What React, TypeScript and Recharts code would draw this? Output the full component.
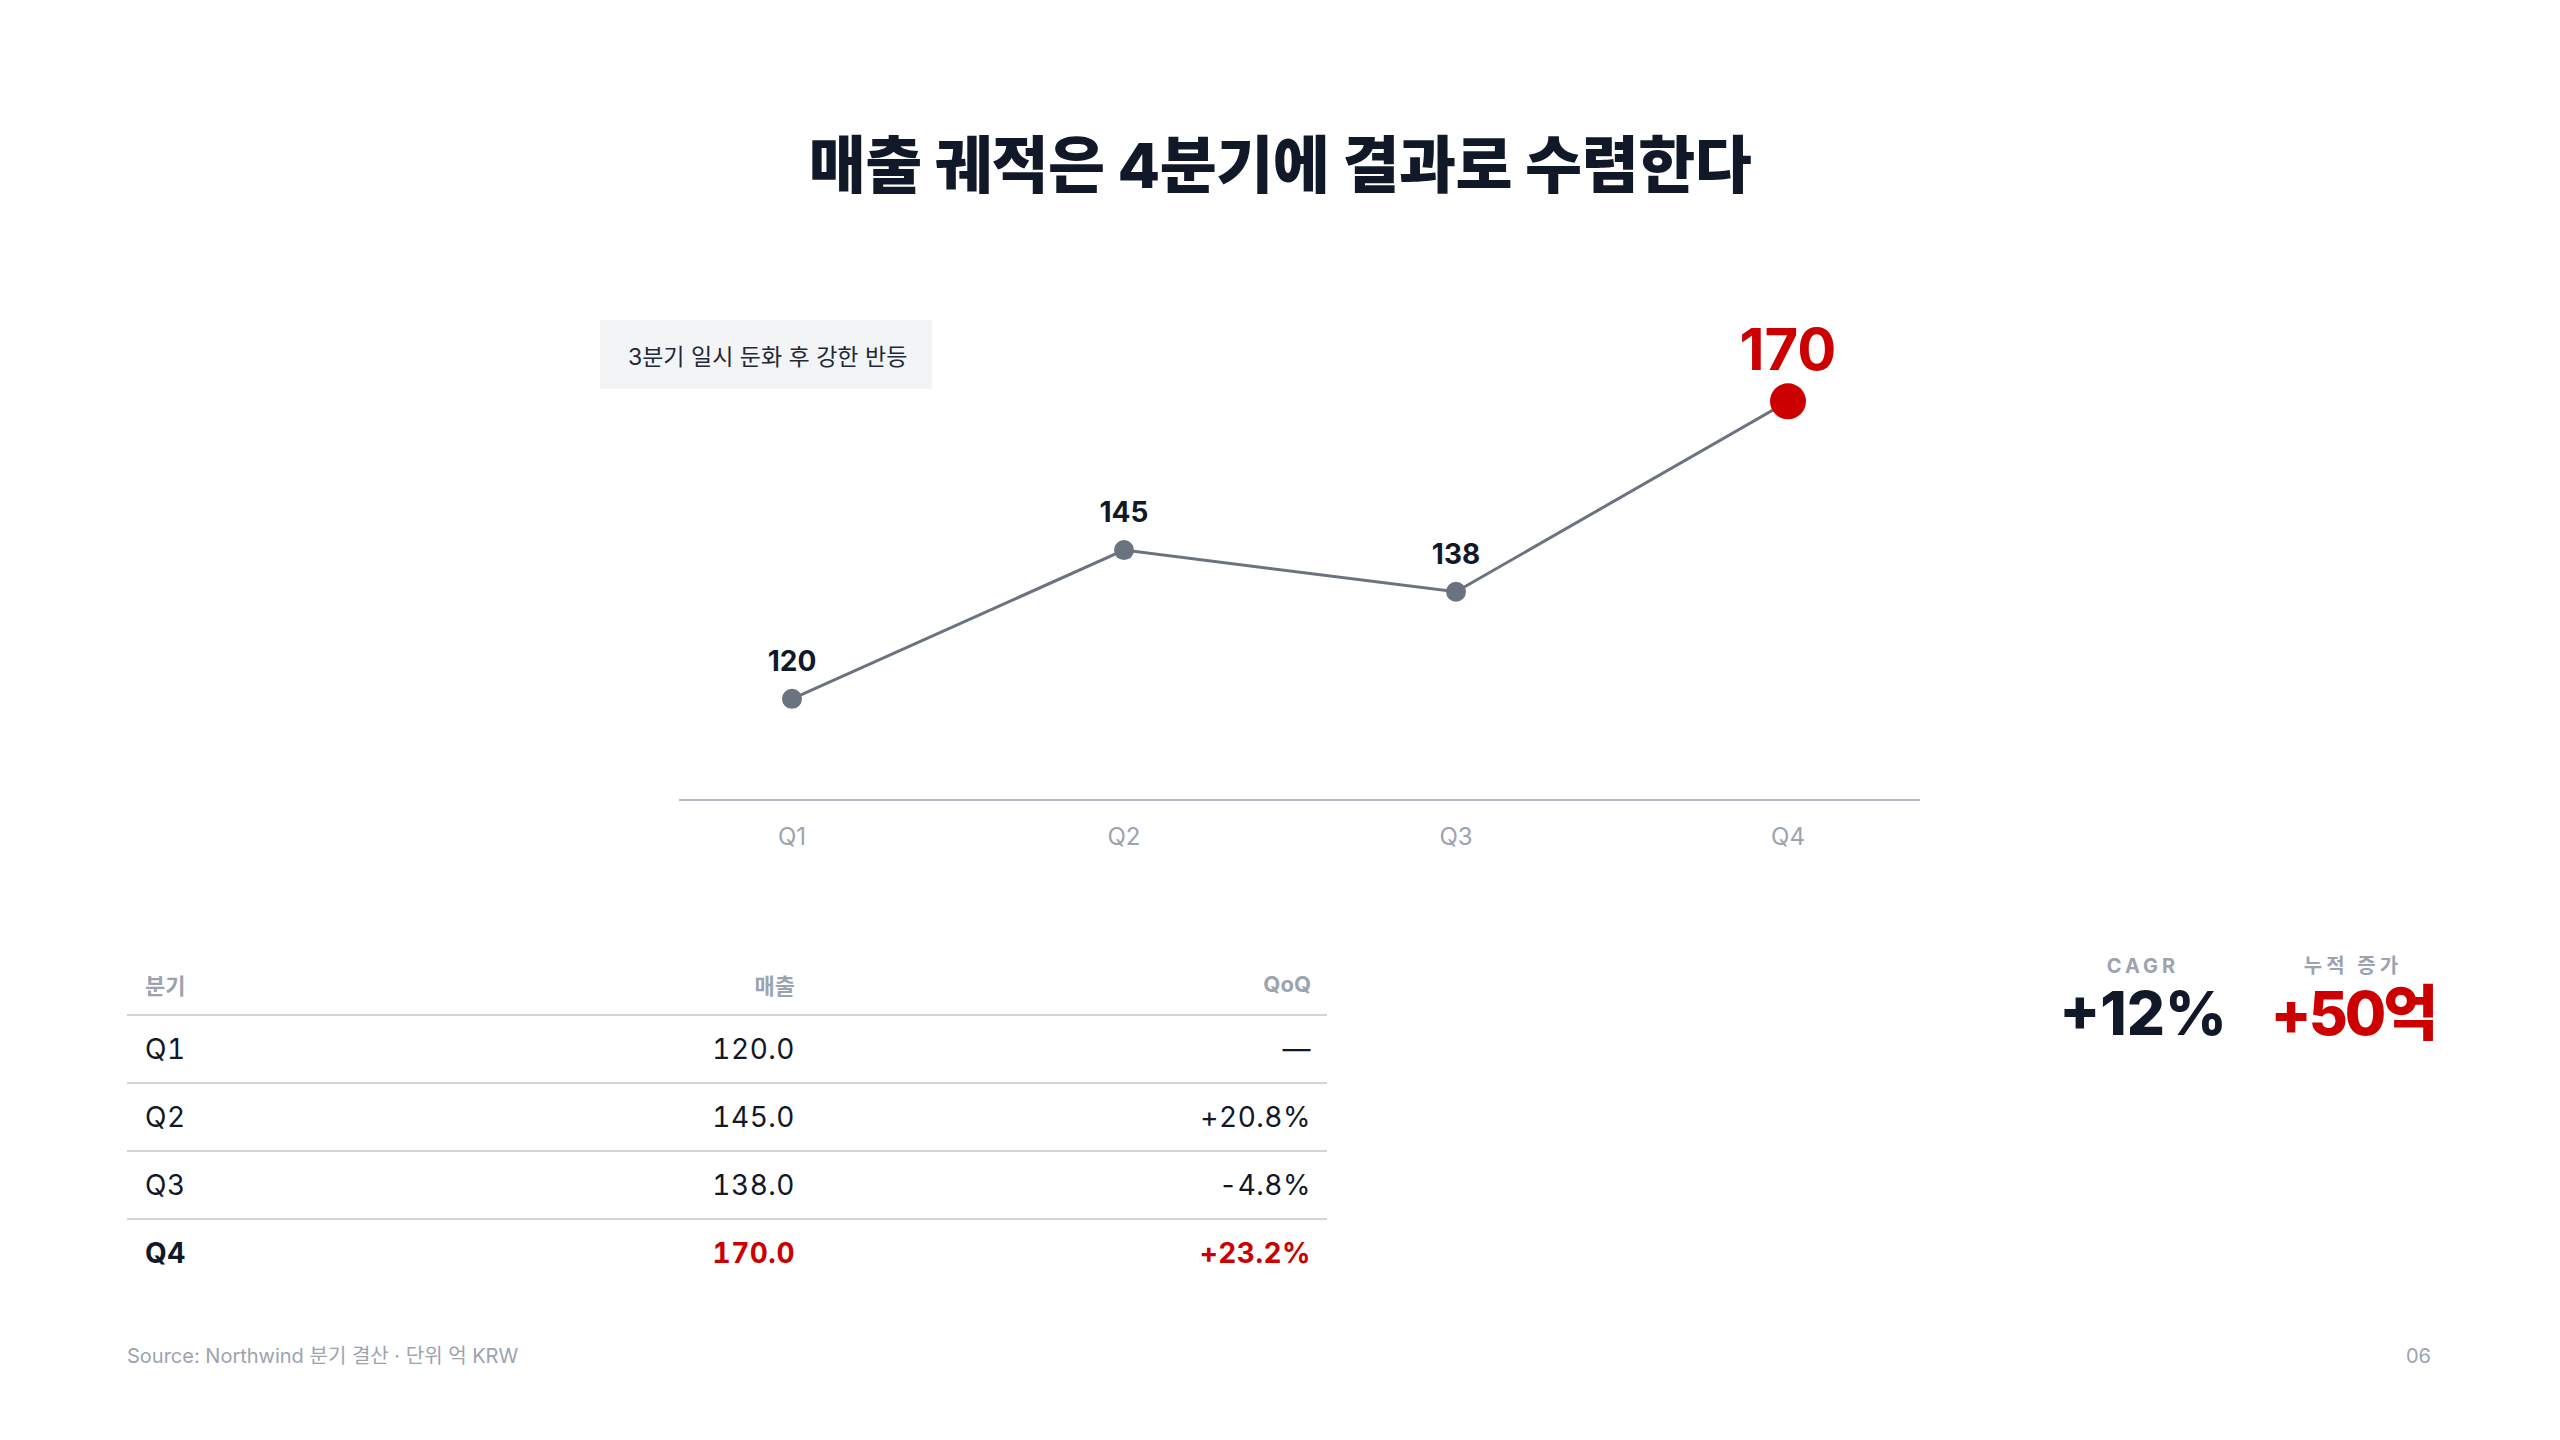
import { LabelList, Line, LineChart, XAxis, YAxis } from "recharts";

const quarters = ["Q1", "Q2", "Q3", "Q4"];
const revenue = [120, 145, 138, 170];
const qoqLabels = ["—", "+20.8%", "-4.8%", "+23.2%"];
const kpiLabels = ["CAGR", "누적 증가"];
const kpiValues = ["+12%", "+50억"];

const RED = "#cc0000";
const INK = "#111827";
const MUTED = "#9ca3af";
const LINE_GRAY = "#6b7280";
const FONT = "Inter, 'Noto Sans CJK KR', sans-serif";

const chartData = quarters.map((q, i) => ({ q, v: revenue[i] }));
const lastIndex = chartData.length - 1;

function renderDot(props: any) {
  const { cx, cy, index } = props;
  const isLast = index === lastIndex;
  return (
    <circle
      key={`dot-${index}`}
      cx={cx}
      cy={cy}
      r={isLast ? 18 : 10}
      fill={isLast ? RED : LINE_GRAY}
    />
  );
}

function renderValueLabel(props: any) {
  const { x, y, value, index } = props;
  const isLast = index === lastIndex;
  return (
    <text
      key={`label-${index}`}
      x={x}
      y={y - (isLast ? 31 : 28)}
      textAnchor="middle"
      fontFamily={FONT}
      fontSize={isLast ? 58 : 28}
      fontWeight={700}
      fill={isLast ? RED : INK}
    >
      {value}
    </text>
  );
}

const cell = (extra: React.CSSProperties): React.CSSProperties => ({
  position: "absolute",
  top: 0,
  height: "100%",
  display: "flex",
  alignItems: "center",
  ...extra,
});

export default function App() {
  return (
    <div
      style={{
        position: "absolute",
        top: 0,
        left: 0,
        width: 2560,
        height: 1440,
        background: "#ffffff",
        fontFamily: FONT,
        color: INK,
        overflow: "hidden",
      }}
    >
      <div
        style={{
          position: "absolute",
          top: 135,
          left: 0,
          width: 2560,
          textAlign: "center",
          fontSize: 62,
          lineHeight: 1,
          fontWeight: 800,
          letterSpacing: -0.5,
          color: INK,
        }}
      >
        매출 궤적은 4분기에 결과로 수렴한다
      </div>

      <div
        style={{
          position: "absolute",
          left: 600,
          top: 320,
          width: 332,
          height: 69,
          background: "#f3f4f6",
          display: "flex",
          alignItems: "center",
          paddingLeft: 28,
          boxSizing: "border-box",
          fontSize: 23,
          color: "#1f2937",
          whiteSpace: "nowrap",
        }}
      >
        3분기 일시 둔화 후 강한 반등
      </div>

      <div style={{ position: "absolute", left: 679, top: 300 }}>
        <LineChart
          width={1241}
          height={570}
          data={chartData}
          margin={{ top: 24, right: 0, bottom: 0, left: 0 }}
        >
          <YAxis
            hide
            type="number"
            scale="linear"
            domain={[103, 183]}
            allowDataOverflow
          />
          <XAxis
            dataKey="q"
            padding={{ left: 113, right: 132 }}
            axisLine={{ stroke: "#b6bac2", strokeWidth: 2 }}
            tickLine={false}
            tickMargin={22}
            height={70}
            tick={{ fill: MUTED, fontSize: 24, fontFamily: FONT }}
          />
          <Line
            type="linear"
            dataKey="v"
            stroke={LINE_GRAY}
            strokeWidth={3}
            dot={renderDot}
            activeDot={false}
            isAnimationActive={false}
          >
            <LabelList dataKey="v" content={renderValueLabel} />
          </Line>
        </LineChart>
      </div>

      <div style={{ position: "absolute", left: 127, top: 953, width: 1200 }}>
        <div
          style={{
            position: "relative",
            height: 61,
            borderBottom: "2px solid #d1d5db",
            fontSize: 22,
            fontWeight: 700,
            color: MUTED,
          }}
        >
          <span style={cell({ left: 18 })}>분기</span>
          <span style={cell({ right: 532 })}>매출</span>
          <span style={cell({ right: 16 })}>QoQ</span>
        </div>
        {quarters.map((q, i) => {
          const isLast = i === lastIndex;
          return (
            <div
              key={q}
              style={{
                position: "relative",
                height: 66,
                borderBottom: isLast ? "none" : "2px solid #d1d5db",
                fontSize: 28,
                letterSpacing: 0.5,
                fontVariantNumeric: "tabular-nums",
                fontWeight: isLast ? 700 : 400,
              }}
            >
              <span style={cell({ left: 18, color: INK })}>{q}</span>
              <span style={cell({ right: 532, color: isLast ? RED : INK })}>
                {revenue[i].toFixed(1)}
              </span>
              <span style={cell({ right: 16, color: isLast ? RED : INK })}>
                {qoqLabels[i]}
              </span>
            </div>
          );
        })}
      </div>

      {kpiLabels.map((label, i) => {
        const center = i === 0 ? 2143 : 2353;
        return (
          <div key={label}>
            <div
              style={{
                position: "absolute",
                left: center - 120,
                width: 240,
                top: 956,
                textAlign: "center",
                fontSize: 20,
                lineHeight: 1,
                fontWeight: 700,
                letterSpacing: 4,
                color: MUTED,
              }}
            >
              {label}
            </div>
            <div
              style={{
                position: "absolute",
                left: center - 120,
                width: 240,
                top: 983,
                textAlign: "center",
                fontSize: 60,
                lineHeight: 1,
                fontWeight: 800,
                letterSpacing: i === 0 ? 0 : -3,
                color: i === 0 ? INK : RED,
              }}
            >
              {kpiValues[i]}
            </div>
          </div>
        );
      })}

      <div
        style={{
          position: "absolute",
          left: 127,
          top: 1346,
          fontSize: 20,
          lineHeight: 1,
          color: MUTED,
        }}
      >
        Source: Northwind 분기 결산 · 단위 억 KRW
      </div>
      <div
        style={{
          position: "absolute",
          right: 129,
          top: 1346,
          fontSize: 20,
          lineHeight: 1,
          color: MUTED,
        }}
      >
        06
      </div>
    </div>
  );
}
